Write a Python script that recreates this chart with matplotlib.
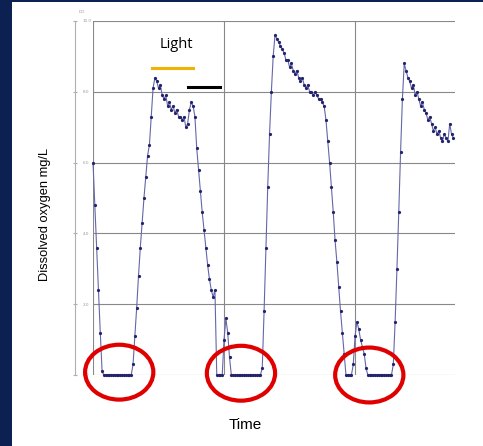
import numpy as np
import matplotlib.pyplot as plt
from matplotlib.patches import Ellipse, Rectangle

# dissolved oxygen logger readings, one every 20 minutes
do_mgl = [
    6.0, 4.8, 3.6, 2.4, 1.2, 0.1,                        # h0-1
    0, 0, 0, 0, 0, 0, 0, 0, 0, 0, 0, 0, 0, 0, 0,         # h2-6
    0, 0.3, 1.1, 1.9, 2.8, 3.6, 4.3, 5.0, 5.6,           # h7-9
    6.2, 6.5, 7.3, 8.1, 8.4, 8.3, 8.1, 8.2, 7.9,         # h10-12
    7.8, 7.9, 7.6, 7.7, 7.5, 7.6, 7.4, 7.5, 7.3,         # h13-15
    7.3, 7.2, 7.3, 7.0, 7.1, 7.5, 7.7, 7.6, 7.3,         # h16-18
    6.4, 5.8, 5.2, 4.6, 4.1, 3.6, 3.1, 2.7, 2.4,         # h19-21
    2.2, 2.4, 0.0, 0, 0, 0.0, 1.0, 1.6, 1.2,             # h22-24
    0.5, 0.0, 0,                                         # h25
    0, 0, 0, 0, 0, 0, 0, 0, 0, 0, 0, 0, 0, 0, 0,         # h26-30
    0.2, 1.8, 3.6, 5.3, 6.8, 8.0, 9.0, 9.6, 9.5,         # h31-33
    9.4, 9.3, 9.2, 9.1, 8.9, 8.9, 8.7, 8.8, 8.6,         # h34-36
    8.5, 8.6, 8.4, 8.3, 8.4, 8.2, 8.1, 8.2, 8.0,         # h37-39
    8.0, 7.9, 8.0, 7.9, 7.8, 7.8, 7.7, 7.6, 7.2,         # h40-42
    6.6, 6.0, 5.3, 4.6, 3.8, 3.2, 2.5, 1.8, 1.2,         # h43-45
    0.6, 0.0, 0, 0, 0, 0.3, 1.1, 1.5, 1.3,               # h46-48
    1.0, 0.8, 0.6, 0.2, 0, 0,                            # h49-50
    0, 0, 0, 0, 0, 0, 0, 0, 0, 0, 0, 0,                  # h51-54
    0.3, 1.5, 3.0, 4.6, 6.3, 7.8, 8.8, 8.6, 8.4,         # h55-57
    8.3, 8.1, 8.2, 7.9, 8.0, 7.8, 7.6, 7.7, 7.5,         # h58-60
    7.4, 7.2, 7.3, 7.1, 6.9, 7.0, 6.8, 6.9, 6.7,         # h61-63
    6.6, 6.8, 6.7, 6.6, 7.1, 6.8, 6.7,                   # h64-66
]
hours = np.arange(len(do_mgl)) / 3.0

y_ticks = [0, 2, 4, 6, 8, 10]
y_ticklabels = ['0.0', '2.0', '4.0', '6.0', '8.0', '10.0']
day_marks = [0, 24, 48]

navy = '#0c2152'
fig = plt.figure(figsize=(4.83, 4.46), dpi=100, facecolor=navy)
fig.patches.append(Rectangle((12 / 483, 0), 1, 444 / 446, transform=fig.transFigure,
                             facecolor='white', edgecolor='none', zorder=-1))

ax = fig.add_axes([93 / 483, 71 / 446, 362 / 483, 354 / 446])
ax.set_facecolor('white')

ax.plot(hours, do_mgl, color='#6666a8', lw=0.8, marker='o', ms=1.3,
        mfc='#23236e', mec='#23236e', clip_on=False, zorder=3)

ax.set_xlim(0, 66.3)
ax.set_ylim(0, 10)
ax.set_xticks(day_marks)
ax.set_xticklabels([])
ax.set_yticks(y_ticks)
ax.set_yticklabels(y_ticklabels)
ax.grid(True, color='#888888', lw=0.8)
ax.set_axisbelow(True)

for s in ['top', 'right', 'bottom']:
    ax.spines[s].set_visible(False)
ax.spines['left'].set_position(('outward', 13))
ax.spines['left'].set_color('#b0b0b0')
ax.tick_params(axis='x', length=0)
ax.tick_params(axis='y', direction='inout', length=3, color='#b0b0b0',
               labelsize=3, labelcolor='#999999', pad=-7)
for lab in ax.get_yticklabels():
    lab.set_ha('left')

# light / dark period bars
ax.plot([10.8, 18.3], [8.67, 8.67], color='#f2b200', lw=2.2, clip_on=False, zorder=4)
ax.plot([17.4, 23.3], [8.14, 8.14], color='black', lw=2.2, clip_on=False, zorder=4)
ax.text(15.3, 9.33, 'Light', fontsize=10.5, family='Open Sans', ha='center', va='center')

# red circles around the anoxic periods
for cx, cy in [(4.8, 0.08), (27.1, 0.05), (50.6, 0.0)]:
    ax.add_patch(Ellipse((cx, cy), 12.5, 1.55, fill=False, edgecolor='#e00000',
                         lw=3, clip_on=False, zorder=5))

fig.text(82 / 483, 1 - 12 / 446, 'DO', fontsize=3, color='#999999', ha='center', va='center')
fig.text(245 / 483, 1 - 425 / 446, 'Time', fontsize=11, family='Liberation Sans',
         ha='center', va='center')
fig.text(45 / 483, 1 - 214 / 446, 'Dissolved oxygen mg/L', fontsize=9.3,
         family='Liberation Sans', rotation=90, ha='center', va='center')

fig.savefig('out.png', dpi=100, facecolor=navy)
